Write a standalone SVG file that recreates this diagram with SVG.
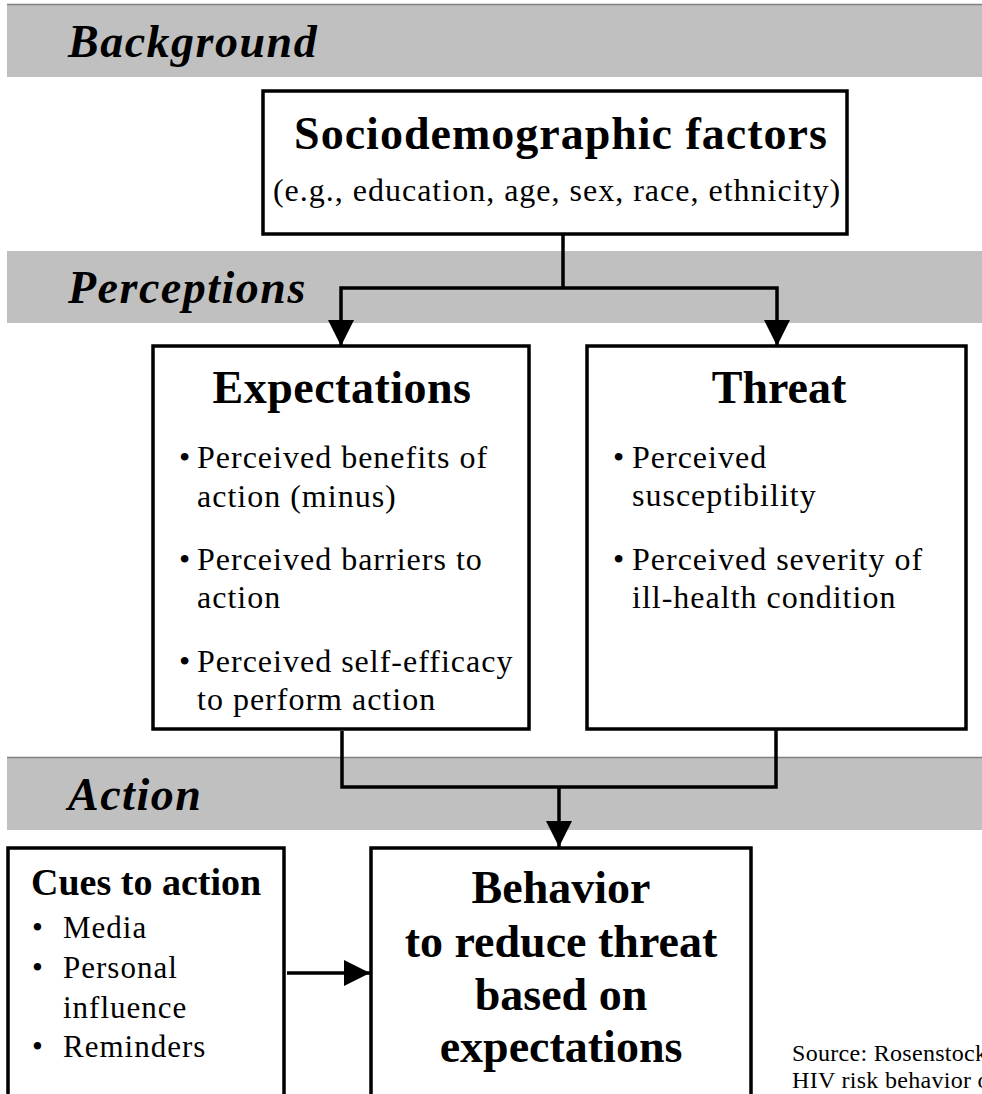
<svg xmlns="http://www.w3.org/2000/svg" width="982" height="1094" viewBox="0 0 982 1094">
<style>
.band{fill:#c0c0c0}
.bandline{stroke:#808080;stroke-width:1.5}
.bt{font-family:"Liberation Serif","Times New Roman",serif;font-weight:bold;font-style:italic;font-size:46px;letter-spacing:1.5px;fill:#000}
.box{fill:#fff;stroke:#000;stroke-width:3.5}
.title{font-family:"Liberation Serif","Times New Roman",serif;font-weight:bold;font-size:46px;fill:#000;text-anchor:middle}
.body{font-family:"Liberation Serif","Times New Roman",serif;font-size:32px;letter-spacing:1px;fill:#000}
.cue{font-family:"Liberation Serif","Times New Roman",serif;font-size:31px;letter-spacing:1px;fill:#000}
.src{font-family:"Liberation Serif","Times New Roman",serif;font-size:24px;letter-spacing:0.3px;fill:#000}
.conn{fill:none;stroke:#000;stroke-width:3.5}
</style>
<defs>
<marker id="ah" markerUnits="userSpaceOnUse" markerWidth="26" markerHeight="26" refX="26" refY="13" orient="auto">
<path d="M0,0 L26,13 L0,26 z" fill="#000"/>
</marker>
</defs>
<rect width="982" height="1094" fill="#fff"/>
<g id="bands">
<rect class="band" x="7" y="4" width="975" height="73"/>
<line class="bandline" x1="7" y1="4.5" x2="982" y2="4.5"/>
<text class="bt" x="68" y="57">Background</text>
<rect class="band" x="7" y="251" width="975" height="72"/>
<text class="bt" x="68" y="303">Perceptions</text>
<rect class="band" x="7" y="757" width="975" height="73"/>
<line class="bandline" x1="7" y1="757.5" x2="982" y2="757.5"/>
<text class="bt" x="68" y="810">Action</text>
</g>
<g id="connectors">
<path class="conn" d="M563,234 V288"/>
<path class="conn" d="M563,288 H341 V346" marker-end="url(#ah)"/>
<path class="conn" d="M563,288 H777 V346" marker-end="url(#ah)"/>
<path class="conn" d="M342,731 V787 H776 V729"/>
<path class="conn" d="M559,787 V847" marker-end="url(#ah)"/>
<path class="conn" d="M287,973 H370" marker-end="url(#ah)"/>
</g>
<g id="sociodemographic">
<rect class="box" x="263" y="91" width="584" height="143"/>
<text class="title" x="561" y="149" letter-spacing="1">Sociodemographic factors</text>
<text class="body" x="557" y="201" text-anchor="middle">(e.g., education, age, sex, race, ethnicity)</text>
</g>
<g id="expectations">
<rect class="box" x="153" y="346" width="376" height="383"/>
<text class="title" x="342" y="403" letter-spacing="0.5">Expectations</text>
<text class="body" x="179" y="468">•</text>
<text class="body" x="197" y="468">Perceived benefits of</text>
<text class="body" x="197" y="507">action (minus)</text>
<text class="body" x="179" y="570">•</text>
<text class="body" x="197" y="570">Perceived barriers to</text>
<text class="body" x="197" y="608">action</text>
<text class="body" x="179" y="672">•</text>
<text class="body" x="197" y="672">Perceived self-efficacy</text>
<text class="body" x="197" y="710">to perform action</text>
</g>
<g id="threat">
<rect class="box" x="587" y="346" width="379" height="383"/>
<text class="title" x="779" y="403">Threat</text>
<text class="body" x="613" y="468">•</text>
<text class="body" x="632" y="468">Perceived</text>
<text class="body" x="632" y="506">susceptibility</text>
<text class="body" x="613" y="570">•</text>
<text class="body" x="632" y="570">Perceived severity of</text>
<text class="body" x="632" y="608">ill-health condition</text>
</g>
<g id="cues">
<rect class="box" x="8" y="848" width="276" height="260"/>
<text x="31" y="895" font-family="Liberation Serif, Times New Roman, serif" font-weight="bold" font-size="38" fill="#000">Cues to action</text>
<text class="cue" x="32" y="938">•</text>
<text class="cue" x="63" y="938">Media</text>
<text class="cue" x="32" y="978">•</text>
<text class="cue" x="63" y="978">Personal</text>
<text class="cue" x="63" y="1018">influence</text>
<text class="cue" x="32" y="1057">•</text>
<text class="cue" x="63" y="1057">Reminders</text>
</g>
<g id="behavior">
<rect class="box" x="371" y="848" width="380" height="260"/>
<text class="title" x="561" y="903">Behavior</text>
<text class="title" x="561" y="957">to reduce threat</text>
<text class="title" x="561" y="1010">based on</text>
<text class="title" x="561" y="1062">expectations</text>
</g>
<g id="source">
<text class="src" x="792" y="1061">Source: Rosenstock</text>
<text class="src" x="792" y="1088">HIV risk behavior o</text>
</g>
</svg>
